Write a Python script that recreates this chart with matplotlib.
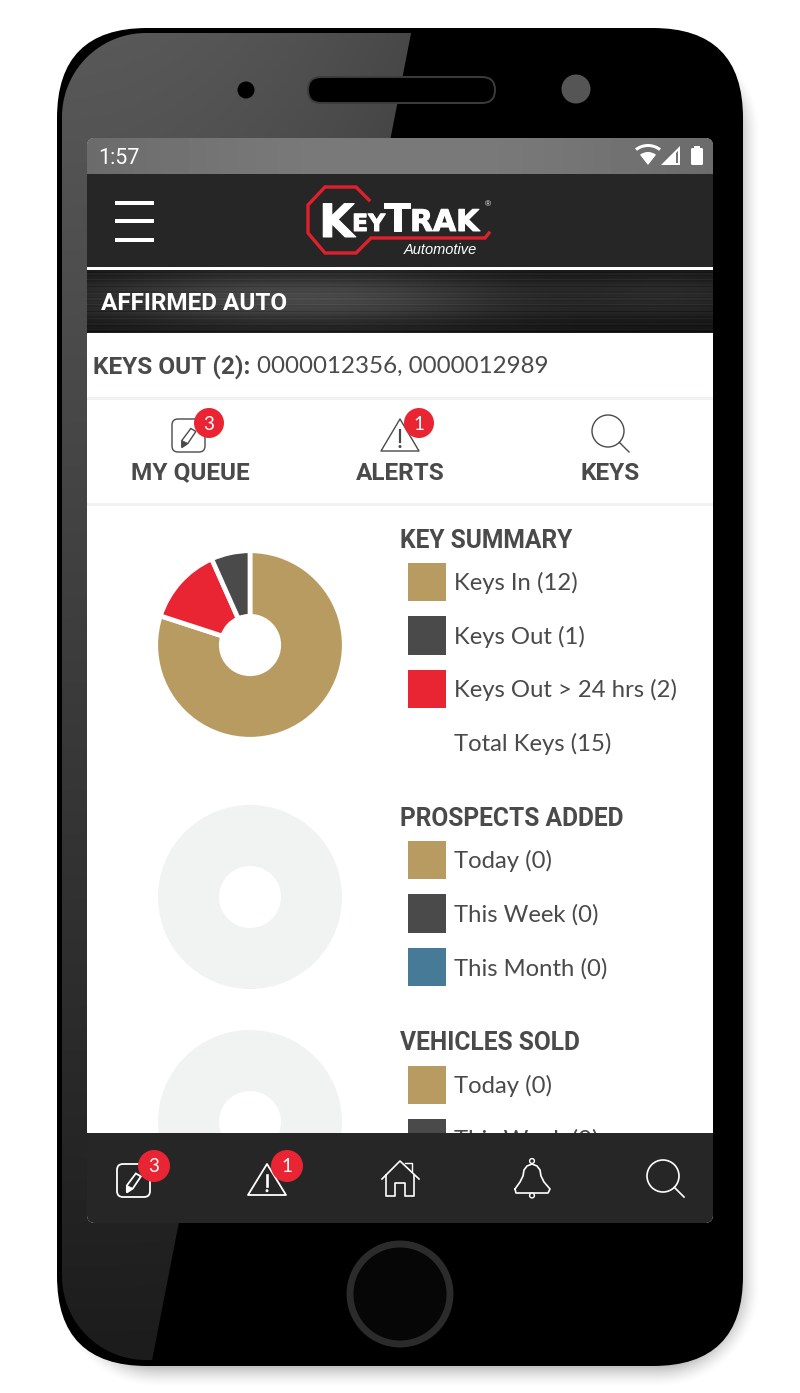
import numpy as np
import matplotlib
matplotlib.use("Agg")
import matplotlib.pyplot as plt
import matplotlib.patheffects as pe
from matplotlib.patches import Circle, FancyBboxPatch, Polygon, Rectangle, Wedge

W, H = 800, 1393
TAN, DARK, RED, BLUE, EMPTY = "#b89b60", "#4a4a4a", "#ea2533", "#467a96", "#f1f2f2"
BAR = "#262626"
HEAD = "Roboto"
BODY = "Lato"

# ---- data
key_title = "KEY SUMMARY"
key_labels = ["Keys In (12)", "Keys Out (1)", "Keys Out > 24 hrs (2)"]
key_total = "Total Keys (15)"
key_pie_values = [12, 2, 1]
key_pie_colors = [TAN, RED, DARK]
prospect_title = "PROSPECTS ADDED"
prospect_labels = ["Today (0)", "This Week (0)", "This Month (0)"]
vehicle_title = "VEHICLES SOLD"
vehicle_labels = ["Today (0)", "This Week (0)"]
empty_ring = [1]

fig = plt.figure(figsize=(W / 100, H / 100), dpi=100, facecolor="white")


def layer(z):
    a = fig.add_axes([0, 0, 1, 1], zorder=z)
    a.set_xlim(0, W)
    a.set_ylim(H, 0)
    a.axis("off")
    a.patch.set_alpha(0)
    return a


back = layer(0)
front = layer(5)


def rrect(a, x0, y0, x1, y1, r, **kw):
    p = FancyBboxPatch((x0 + r, y0 + r), x1 - x0 - 2 * r, y1 - y0 - 2 * r,
                       boxstyle=f"round,pad={r},rounding_size={r}", **kw)
    a.add_patch(p)
    return p


def image(a, arr, extent, clip=None, z=1):
    im = a.imshow(arr, extent=extent, aspect="auto", zorder=z, interpolation="bilinear",
                  cmap="gray", vmin=0, vmax=1)
    if clip is not None:
        im.set_clip_path(clip)
    a.set_xlim(0, W)
    a.set_ylim(H, 0)
    return im


def rbox_dist(cx, cy, hx, hy, rad):
    qx = np.abs(xx + .5 - cx) - (hx - rad)
    qy = np.abs(yy + .5 - cy) - (hy - rad)
    return np.hypot(np.maximum(qx, 0), np.maximum(qy, 0)) + np.minimum(np.maximum(qx, qy), 0) - rad


yy, xx = np.mgrid[0:H, 0:W]

# ---- soft shadow to the right of and below the phone
dist = rbox_dist(408, 709, 339, 665, 88)
shadow = np.zeros((H, W, 4))
shadow[..., 3] = np.clip((14 - dist) / 30, 0, 1) ** 1.6 * .42
back.imshow(shadow, extent=(0, W, H, 0), aspect="auto", zorder=0)
back.set_xlim(0, W)
back.set_ylim(H, 0)

# ---- phone body and gloss
rrect(back, 57, 28, 743, 1366, 90, fc="black", ec="none", zorder=1)
inner_d = rbox_dist(402.5, 696.5, 340.5, 663.5, 84)
edge_x = 411 - 0.1952 * (yy - 33)
g_alpha = np.clip(.5 - inner_d, 0, 1) * np.clip(edge_x - xx, 0, 1)
gv, gu = yy / H, np.clip((xx - 62) / 350, 0, 1)
g_lum = .35 - .24 * np.clip((gv - .02) / .95, 0, 1) - .07 * gu ** 2 * (1 - gv)
gloss = np.dstack([g_lum, g_lum, g_lum, g_alpha])
back.imshow(gloss, extent=(0, W, H, 0), aspect="auto", zorder=2)
back.set_xlim(0, W)
back.set_ylim(H, 0)

# top of the phone
back.add_patch(Circle((246, 90), 8.5, fc="black", ec="none", zorder=4))
rrect(back, 308, 77, 495, 103, 13, fc="black", ec="#3c3c3c", lw=1.4, zorder=4)
back.add_patch(Circle((576, 89), 14.5, fc="#555555", ec="none", zorder=4))
# home button
back.add_patch(Circle((400, 1294), 50, fc="#060606", ec="#2b2b2b", lw=5, zorder=4))

# ---- screen
rrect(back, 87, 138, 713, 1223, 8, fc="white", ec="none", zorder=4)
status = rrect(back, 87, 138, 713, 190, 8, fc="#747474", ec="none", zorder=4.1)
sx_ = np.linspace(0, 1, 200)[None, :]
st = .42 + .06 * np.sin(sx_ * np.pi)
image(back, st, (87, 713, 175, 138), clip=status, z=4.2)
back.add_patch(Rectangle((87, 174), 626, 96, fc=BAR, ec="none", zorder=4.3))
back.add_patch(Rectangle((87, 266.5), 626, 3, fc="white", ec="none", zorder=4.4))

# brushed metal band
by = np.linspace(0, 1, 63)[:, None]
bx = np.linspace(0, 1, 400)[None, :]
lum = (.07 + .22 * np.exp(-((bx - .34) / .38) ** 2) * np.exp(-((by - .45) / .45) ** 2)
       + .08 * np.exp(-((bx - .95) / .18) ** 2) * np.exp(-((by - .4) / .4) ** 2))
lum = lum + .022 * np.sin(by * 140) + .014 * np.sin(by * 311)
image(back, np.clip(lum, 0, 1), (87, 713, 333, 270), z=4.5)
back.add_patch(Rectangle((87, 397), 626, 3, fc="#f1f2f2", ec="none", zorder=4.5))
back.add_patch(Rectangle((87, 503), 626, 3, fc="#f1f2f2", ec="none", zorder=4.5))


# ---- donuts, drawn through the pie scale
def donut(cx_, cy_, values, colors, edge):
    pad = 6
    r = 92
    a = fig.add_axes([(cx_ - r - pad) / W, 1 - (cy_ + r + pad) / H,
                      2 * (r + pad) / W, 2 * (r + pad) / H], zorder=2)
    outer = (r + edge * 2 / 3) / r if edge else 1
    hole = (31 - edge * 2 / 3) / r if edge else 31 / r
    a.pie(values, colors=colors, startangle=90, counterclock=False, radius=outer,
          wedgeprops=dict(width=outer - hole, edgecolor="white" if edge else "none", linewidth=edge))
    lim = (r + pad) / r
    a.set_xlim(-lim, lim)
    a.set_ylim(-lim, lim)
    a.patch.set_alpha(0)


donut(250, 645, key_pie_values, key_pie_colors, 3.4)
donut(250, 897, empty_ring, [EMPTY], 0)
donut(250, 1122, empty_ring, [EMPTY], 0)


# ---- text helpers
def label(x, y, s, size=17.2, color=DARK, family=BODY, weight="normal", ha="left", z=6):
    return front.text(x, y + 1.5, s, fontsize=size, color=color, family=family, weight=weight,
                      ha=ha, va="center", zorder=z)


def section(title, y, rows, colors):
    label(400, y, title, size=17.7, family=HEAD, weight="bold")
    for i, (txt, col) in enumerate(zip(rows, colors)):
        ry = y + 42.5 + i * 53.7
        front.add_patch(Rectangle((407.5, ry - 19), 38.5, 38.5, fc=col, ec="none", zorder=5))
        label(454, ry, txt)


section(key_title, 539, key_labels, [TAN, DARK, RED])
label(454, 742, key_total)
section(prospect_title, 817, prospect_labels, [TAN, DARK, BLUE])
section(vehicle_title, 1042, vehicle_labels, [TAN, DARK])

# ---- bottom navigation covers the scrolled content
rrect(front, 87, 1133, 713, 1223, 8, fc=BAR, ec="none", zorder=10)
front.add_patch(Rectangle((87, 1133), 626, 20, fc=BAR, ec="none", zorder=10))

# ---- top texts
label(98, 157, "1:57", size=15.5, color="white", family=HEAD)
label(101, 302, "AFFIRMED AUTO", size=17.5, color="white", family=HEAD, weight="bold")
label(93, 365, "KEYS OUT (2):", size=17.6, family=HEAD, weight="bold")
label(257, 365, "0000012356, 0000012989", size=17.4)
label(190.5, 471.5, "MY QUEUE", size=17.6, family=HEAD, weight="bold", ha="center")
label(400.5, 471.5, "ALERTS", size=17.6, family=HEAD, weight="bold", ha="center")
label(610.5, 471.5, "KEYS", size=17.6, family=HEAD, weight="bold", ha="center")

# hamburger
for by_ in (202.5, 221, 239.5):
    front.add_patch(Rectangle((115, by_ - 2), 39, 4, fc="white", ec="none", zorder=11))

# status icons
front.add_patch(Wedge((648, 165), 13, 232, 308, fc="white", ec="none", zorder=11))
front.add_patch(Wedge((648, 165), 21, 232, 308, width=3, fc="white", ec="none", zorder=11))
front.add_patch(Polygon([(661, 165), (680, 146), (680, 165)], fc="white", ec="none", zorder=11))
front.add_patch(Polygon([(676, 153), (678, 151), (678, 163), (676, 163)], fc="#747474", ec="none", zorder=11))
rrect(front, 691, 148, 703, 165, 1.5, fc="white", ec="none", zorder=11)
front.add_patch(Rectangle((694, 146), 6, 3, fc="white", ec="none", zorder=11))

# logo
front.plot([369, 356, 325, 308, 308, 325, 356, 371, 485, 489],
           [200, 187, 187, 205, 233, 253, 253, 238, 238, 233],
           color="#e0202c", lw=2.4, solid_joinstyle="miter", zorder=11)


def logo(x, base, s, size):
    t = front.text(x, base, s, fontsize=size, color="white", family="DejaVu Sans", weight="bold",
                   ha="left", va="baseline", zorder=12)
    t.set_path_effects([pe.withStroke(linewidth=.7, foreground="white")])


logo(319, 237, "K", 33)
logo(352, 231, "EY", 17)
logo(384, 231, "T", 28)
logo(410, 231, "RAK", 21.5)
front.text(485, 205, "®", fontsize=6, color="white", family="Liberation Sans", ha="left", va="center", zorder=12)
front.text(404, 249.5, "Automotive", fontsize=10.5, color="white", family="Liberation Sans", style="italic",
           ha="left", va="center", zorder=12)


# ---- line icons
def note_icon(x0, y0, s, color, lw):
    rrect(front, x0, y0, x0 + s, y0 + s, 6, fc="none", ec=color, lw=lw, zorder=11)
    cx2, cy2 = x0 + s * .45, y0 + s * .62
    front.add_patch(Polygon([(cx2 - 5, cy2 + 8), (cx2 - 5, cy2 + 1), (cx2 + 4, cy2 - 11),
                             (cx2 + 9, cy2 - 8), (cx2 + 1, cy2 + 4)],
                            fc="none", ec=color, lw=lw, zorder=11))
    front.add_patch(Polygon([(cx2 - 5, cy2 + 8), (cx2 - 5, cy2 + 1), (cx2 + 1, cy2 + 4)],
                            fc=color, ec=color, lw=.5, zorder=11))


def alert_icon(cx2, y0, w, h, color, lw):
    front.add_patch(Polygon([(cx2, y0), (cx2 + w / 2, y0 + h), (cx2 - w / 2, y0 + h)],
                            closed=True, fc="none", ec=color, lw=lw, joinstyle="round", zorder=11))
    front.plot([cx2, cx2], [y0 + h * .34, y0 + h * .72], color=color, lw=lw + .6, zorder=11)
    front.add_patch(Circle((cx2, y0 + h * .86), 1.5, fc=color, ec="none", zorder=11))


def lens_icon(cx2, cy2, r, color, lw):
    front.add_patch(Circle((cx2, cy2), r, fc="none", ec=color, lw=lw, zorder=11))
    k = r * .707
    front.plot([cx2 + k, cx2 + 21], [cy2 + k, cy2 + 21], color=color, lw=lw, zorder=11)


def badge(cx2, cy2, r, s, size):
    front.add_patch(Circle((cx2, cy2), r, fc=RED, ec="none", zorder=12))
    front.text(cx2, cy2 + 1, s, color="white", fontsize=size, family=BODY, ha="center", va="center", zorder=13)


IC = "#4a4a4a"
note_icon(172, 419, 33, IC, 1.0)
badge(209, 423, 15, "3", 13.5)
alert_icon(400, 419, 38, 32, IC, 1.0)
badge(419, 423, 15, "1", 13.5)
lens_icon(608, 431, 16, IC, 1.0)

note_icon(117, 1164, 33, "white", 1.3)
badge(154, 1166, 16, "3", 13.5)
alert_icon(267, 1164, 38, 31, "white", 1.3)
badge(287, 1166, 16, "1", 13.5)
lens_icon(663, 1176, 16, "white", 1.2)

# house
front.plot([382, 400, 419], [1179, 1161, 1179], color="white", lw=1.2, zorder=11)
front.plot([386, 386, 395, 395, 405, 405, 414, 414], [1175, 1196, 1196, 1183, 1183, 1196, 1196, 1175],
           color="white", lw=1.2, zorder=11)
front.plot([405, 412, 412], [1163, 1163, 1171], color="white", lw=1.0, zorder=11)
# bell
t_bell_x = [515, 520, 523, 524, 527, 532, 537, 540, 541, 544, 550, 548, 516, 515]
t_bell_y = [1189, 1182, 1176, 1170, 1166, 1164, 1166, 1170, 1176, 1182, 1189, 1193, 1193, 1189]
front.plot(t_bell_x, t_bell_y, color="white", lw=1.2, zorder=11)
front.add_patch(Circle((532, 1161), 2.4, fc=BAR, ec="white", lw=1.0, zorder=11))
front.add_patch(Circle((532, 1195.5), 2.4, fc=BAR, ec="white", lw=1.0, zorder=11))

fig.savefig("out.png", dpi=100, facecolor="white")
